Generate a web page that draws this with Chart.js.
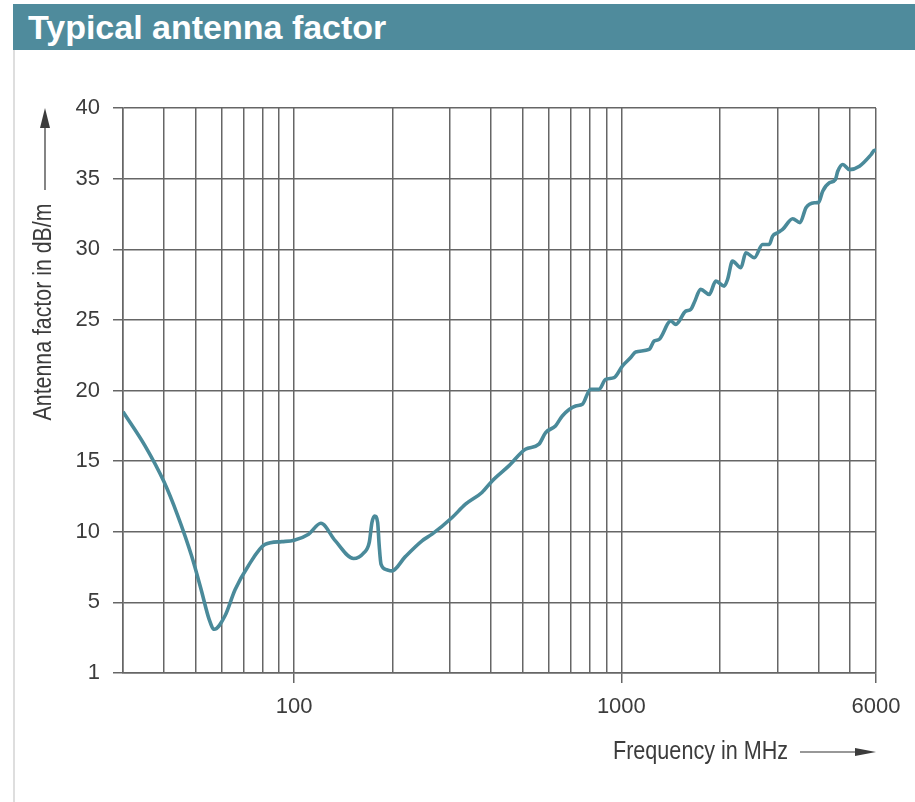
<!DOCTYPE html>
<html>
<head>
<meta charset="utf-8">
<script src="https://cdn.jsdelivr.net/npm/chart.js@4.4.1/dist/chart.umd.min.js"></script>
<style>
  html, body { margin: 0; padding: 0; background: #fff; }
  body { width: 915px; height: 802px; position: relative; overflow: hidden; }
  #header {
    position: absolute; left: 13px; top: 4px; width: 902px; height: 46px;
    background: #4f8b9c; color: #fff;
    font: bold 34px "Liberation Sans", Arial, sans-serif;
    line-height: 46px; padding-left: 15px; box-sizing: border-box;
  }
  #panel {
    position: absolute; left: 13px; top: 50px; width: 902px; height: 752px;
    border-left: 2px solid #dedede; box-sizing: border-box;
  }
  #wrap { position: absolute; left: 0; top: 0; width: 915px; height: 802px; }
</style>
</head>
<body>
<div id="panel"></div>
<div id="wrap"><canvas id="afChart"></canvas></div>
<div id="header">Typical antenna factor</div>
<script>
// Frequency points (MHz) and antenna factor (dB/m)
const freqMHz = [
  30, 35, 40, 44, 48.6, 52, 55, 57, 61.5, 66, 72.5, 81.5, 91.7, 100,
  110.7, 120.7, 133.5, 152, 163, 169.7, 172.9, 176.2, 180, 182, 184.3, 192, 199,
  218.7, 246, 264, 304, 334, 375, 403, 453, 509, 560, 587, 629, 660, 725, 760,
  805, 855, 895, 950, 1007, 1068, 1106, 1216, 1259, 1304, 1416, 1467, 1573,
  1630, 1669, 1748, 1855, 1944, 2062, 2111, 2186, 2318, 2401, 2548, 2701, 2831,
  2899, 3002, 3110, 3338, 3515, 3666, 3889, 4009, 4123, 4322, 4510, 4584, 4750,
  4977, 5341, 5796, 5935, 6000
];
const antennaFactor = [
  18.5, 16.1, 13.55, 11.2, 8.3, 5.9, 3.8, 3.1, 4.05, 5.9, 7.6, 9.1, 9.3, 9.4,
  9.83, 10.6, 9.37, 8.11, 8.49, 9.24, 10.65, 11.12, 10.65, 9.0, 7.71, 7.31, 7.23,
  8.24, 9.36, 9.83, 11.01, 11.95, 12.78, 13.6, 14.66, 15.84, 16.2, 17.02, 17.49, 18.2, 18.9, 19.02,
  20.08, 20.08, 20.79, 20.91, 21.73, 22.33, 22.73, 22.91, 23.5, 23.62, 24.92, 24.68, 25.62,
  25.74, 26.21, 27.16, 26.8, 27.74, 27.39, 27.86, 29.16, 28.69, 29.75, 29.4, 30.34, 30.34,
  30.93, 31.17, 31.4, 32.16, 31.88, 32.94, 33.29, 33.33, 34.11, 34.7, 34.94, 35.52, 36.0,
  35.64, 35.88, 36.7, 37.0, 37.0
];

// vertical grid positions and which of them get a label
const xGridTicks = [30, 40, 50, 60, 70, 80, 90, 100, 200, 300, 400, 500, 600, 700, 800, 900,
  1000, 2000, 3000, 4000, 5000, 6000];
const xLabelTicks = [100, 1000, 6000];

const yMin = 0, yMax = 40, yStep = 5;

const gridColor = '#666';
const textColor = '#3c3c3c';
const curveColor = '#4a8a9a';
const fontFamily = '"Liberation Sans", Arial, sans-serif';
const tickFont = { family: fontFamily, size: 22 };

// axis captions with their arrows; text squeezed horizontally for a narrow look
const axisCaptions = {
  id: 'axisCaptions',
  afterDraw(chart) {
    const { ctx, chartArea } = chart;
    ctx.save();
    ctx.fillStyle = textColor;
    ctx.strokeStyle = '#333';
    ctx.lineWidth = 1.2;
    ctx.font = '26px ' + fontFamily;

    // y caption, rotated
    const yx = 45;
    ctx.save();
    ctx.translate(yx - 1, 312);
    ctx.rotate(-Math.PI / 2);
    ctx.scale(0.82, 1);
    ctx.textAlign = 'center';
    ctx.textBaseline = 'middle';
    ctx.fillText('Antenna factor in dB/m', 0, 0);
    ctx.restore();

    ctx.beginPath();
    ctx.moveTo(yx, 190);
    ctx.lineTo(yx, chartArea.top + 18);
    ctx.stroke();
    ctx.beginPath();
    ctx.moveTo(yx, chartArea.top);
    ctx.lineTo(yx - 5, chartArea.top + 20);
    ctx.lineTo(yx + 5, chartArea.top + 20);
    ctx.closePath();
    ctx.fill();

    // x caption
    const xy = 752;
    ctx.save();
    ctx.translate(613, xy);
    ctx.scale(0.83, 1);
    ctx.textAlign = 'left';
    ctx.textBaseline = 'middle';
    ctx.fillText('Frequency in MHz', 0, 0);
    ctx.restore();
    ctx.beginPath();
    ctx.moveTo(800, xy);
    ctx.lineTo(chartArea.right - 18, xy);
    ctx.stroke();
    ctx.beginPath();
    ctx.moveTo(chartArea.right, xy);
    ctx.lineTo(chartArea.right - 21, xy - 4);
    ctx.lineTo(chartArea.right - 21, xy + 4);
    ctx.closePath();
    ctx.fill();
    ctx.restore();
  }
};

const ctx = document.getElementById('afChart');
new Chart(ctx, {
  type: 'line',
  data: {
    datasets: [{
      data: freqMHz.map((f, i) => ({ x: f, y: antennaFactor[i] })),
      borderColor: curveColor,
      borderWidth: 3.6,
      pointRadius: 0,
      cubicInterpolationMode: 'monotone',
      fill: false
    }]
  },
  options: {
    responsive: true,
    maintainAspectRatio: false,
    animation: false,
    layout: { padding: { left: 63, right: 39, top: 108, bottom: 79 } },
    plugins: {
      legend: { display: false },
      tooltip: { enabled: false }
    },
    scales: {
      x: {
        type: 'logarithmic',
        min: 30,
        max: 6000,
        afterBuildTicks: scale => {
          scale.ticks = xGridTicks.map(v => ({ value: v }));
        },
        afterFit: scale => { scale.height = 50; },
        grid: {
          color: gridColor,
          lineWidth: 1.5,
          tickLength: 10,
          tickColor: c => (c.tick && xLabelTicks.includes(c.tick.value)) ? gridColor : 'rgba(0,0,0,0)'
        },
        border: { color: gridColor, width: 1.5 },
        ticks: {
          autoSkip: false,
          maxRotation: 0,
          padding: 11,
          color: textColor,
          font: tickFont,
          callback: v => xLabelTicks.includes(v) ? String(v) : ''
        }
      },
      y: {
        min: yMin,
        max: yMax,
        afterFit: scale => { scale.width = 60; },
        grid: { color: gridColor, lineWidth: 1.5, tickLength: 10 },
        border: { color: gridColor, width: 1.5 },
        ticks: {
          stepSize: yStep,
          padding: 13,
          color: textColor,
          font: tickFont,
          callback: v => v === 0 ? '1' : String(v)
        }
      }
    }
  },
  plugins: [axisCaptions]
});
</script>
</body>
</html>
